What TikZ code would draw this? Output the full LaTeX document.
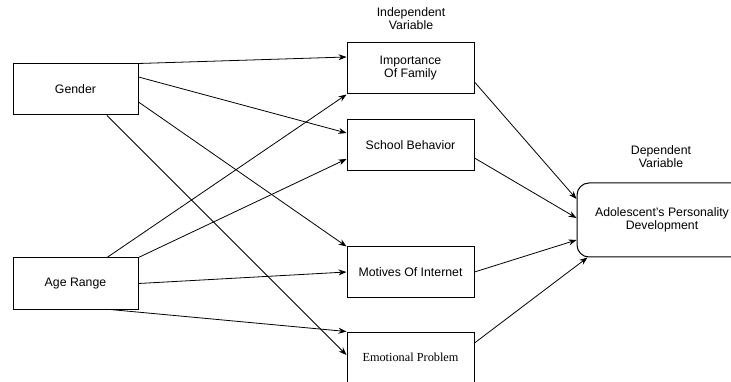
\documentclass[tikz,border=0pt]{standalone}
\usepackage{fontspec}
\setmainfont{Liberation Sans}
\newfontfamily\timesfont{Liberation Serif}
\usetikzlibrary{arrows.meta,positioning}

\begin{document}
\begin{tikzpicture}[x=1pt,y=-1pt,font=\fontsize{12.3}{13}\selectfont]
	\tikzstyle{box} = [draw,line width=1pt,minimum width=125,minimum height=51,inner sep=0,align=center];
	\tikzstyle{var} = [box,minimum width=127];
	\tikzstyle{link} = [line width=0.8pt,-{Stealth[length=8pt,width=6pt]}];
	\useasboundingbox (0,0) rectangle (731,382);
	\clip (0,0) rectangle (731,382);
	\node at (75.5,89.5) (gender) [box] {Gender};
	\node (age) [below=142pt of gender,box] {Age Range};
	\node at (410.5,68.5) (fam) [var] {Importance\\Of Family};
	\node (school) [below=25pt of fam,var] {School Behavior};
	\node (motive) [below=75pt of school,var,minimum height=50] {Motives Of Internet};
	\node (emo) [below=34pt of motive,var,minimum height=50,font=\fontsize{12.3}{13}\timesfont] {Emotional Problem};
	\node at (662,220) (dev) [box,rounded corners=12pt,minimum width=170,minimum height=74] {Adolescent's Personality\\Development};
	\node at (411,19) (indep) [align=center] {Independent\\Variable};
	\node at (661,157) (dep) [align=center] {Dependent\\Variable};
	\draw [link] (gender.north east) -- ([yshift=11.5pt]fam.west);
	\draw [link] ([yshift=12.5pt]gender.east) -- ([yshift=12.5pt]school.west);
	\draw [link] ([yshift=-12.5pt]gender.east) -- (motive.north west);
	\draw [link] ([xshift=31.5pt]gender.south) -- ([yshift=2pt]emo.west);
	\draw [link] ([xshift=31.5pt]age.north) -- (fam.south west);
	\draw [link] (age.north east) -- ([yshift=-13.5pt]school.west);
	\draw [link] (age.east) -- (motive.west);
	\draw [link] ([xshift=34.5pt]age.south) -- (emo.north west);
	\draw [link] ([yshift=-13.5pt]fam.east) -- ([yshift=21pt]dev.west);
	\draw [link] ([yshift=-12.5pt]school.east) -- ([yshift=2pt]dev.west);
	\draw [link] (motive.east) -- ([yshift=-20pt]dev.west);
	\draw [link] ([yshift=14pt]emo.east) -- ([xshift=11pt]dev.south west);
\end{tikzpicture}
\end{document}
